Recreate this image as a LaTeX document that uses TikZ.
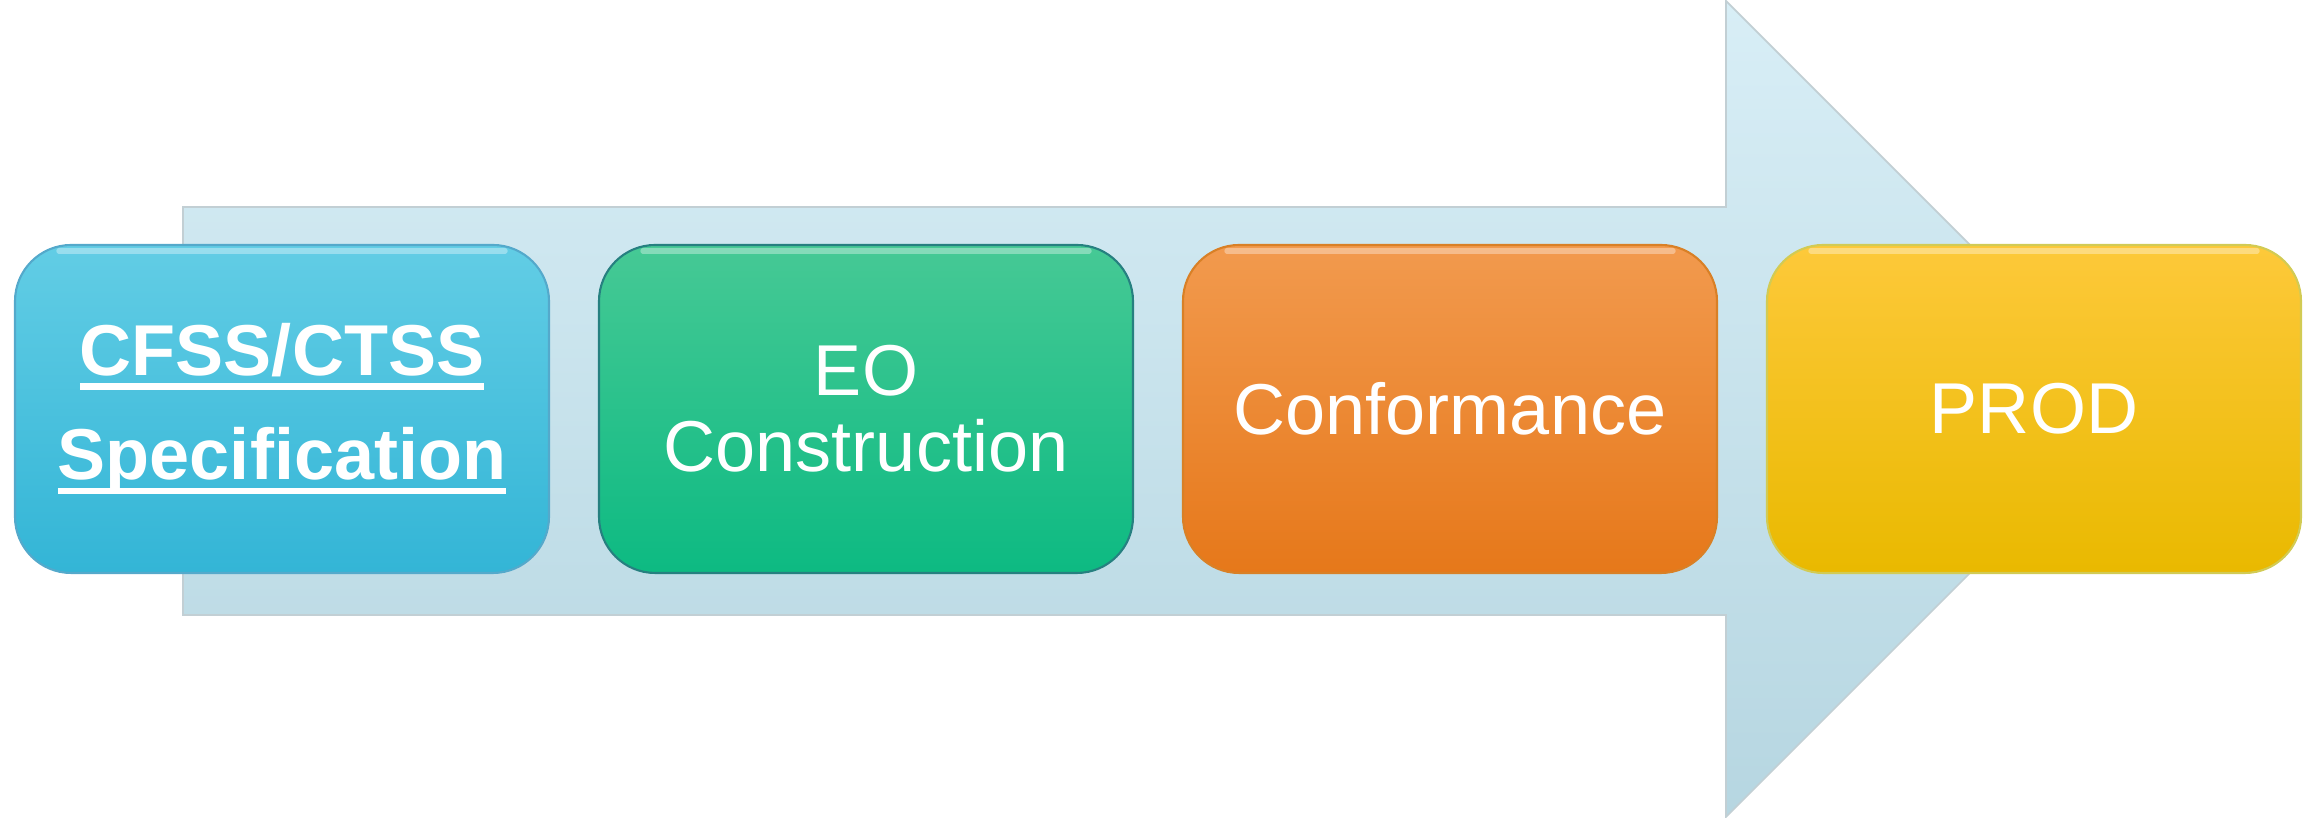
\documentclass[tikz,border=0pt]{standalone}
\usepackage{fontspec}
\setmainfont{Liberation Sans}
\definecolor{arwtop}{HTML}{D8EEF6}
\definecolor{arwbot}{HTML}{B6D6E1}
\definecolor{arwline}{HTML}{C2CFD4}
\newcommand{\ulword}[2]{\setbox0\hbox{#2}\rlap{\rule[-#1]{\wd0}{0.065cm}}\box0}
\begin{document}
\begin{tikzpicture}
      \tikzstyle{STY1} = [rectangle, minimum height=3.28cm, minimum width=5.34cm, rounded corners=16pt, line width=0.6pt, text=white, align=center, font=\fontsize{20.5}{21.5}\selectfont]
      \tikzstyle{STY2} = [draw=arwline, line width=0.5pt, top color=arwtop, bottom color=arwbot]

      \useasboundingbox (0,0) rectangle (23.2,8.18);

      %%%%% ARROW

      \draw[STY2] (1.83,2.03) -- (1.83,6.11) -- (17.26,6.11) -- (17.26,8.17) -- (21.34,4.09) -- (17.26,0.01) -- (17.26,2.03) -- cycle;

      %%%%% VERTEX

      \node[STY1, draw=cyan!60!gray, top color={rgb,255:red,98;green,205;blue,229}, bottom color={rgb,255:red,51;green,181;blue,214}](v1) at ({5.84*0 + 2.82}, 4.09) {\bfseries\ulword{0.14cm}{CFSS/CTSS}\\[0.28cm]\bfseries\ulword{0.15cm}{Specification}};
      \node[STY1, draw=teal!70!gray, top color={rgb,255:red,70;green,201;blue,149}, bottom color={rgb,255:red,13;green,186;blue,130}](v2) at ({5.84*1 + 2.82}, 4.09) {EO\\Construction};
      \node[STY1, draw=orange!70!gray, top color={rgb,255:red,242;green,154;blue,78}, bottom color={rgb,255:red,230;green,120;blue,26}](v3) at ({5.84*2 + 2.82}, 4.09) {Conformance};
      \node[STY1, draw=yellow!60!gray, top color={rgb,255:red,253;green,201;blue,58}, middle color={rgb,255:red,252;green,197;blue,0}, bottom color={rgb,255:red,233;green,185;blue,0}](v4) at ({5.84*3 + 2.82}, 4.09) {PROD};

      %%%%% GLOSS
      \foreach \v in {v1,v2,v3,v4}
        \draw[white, opacity=.35, line width=1.5pt, line cap=round] ([xshift=0.45cm, yshift=-0.07cm]\v.north west) -- ([xshift=-0.45cm, yshift=-0.07cm]\v.north east);
    \end{tikzpicture}
\end{document}
